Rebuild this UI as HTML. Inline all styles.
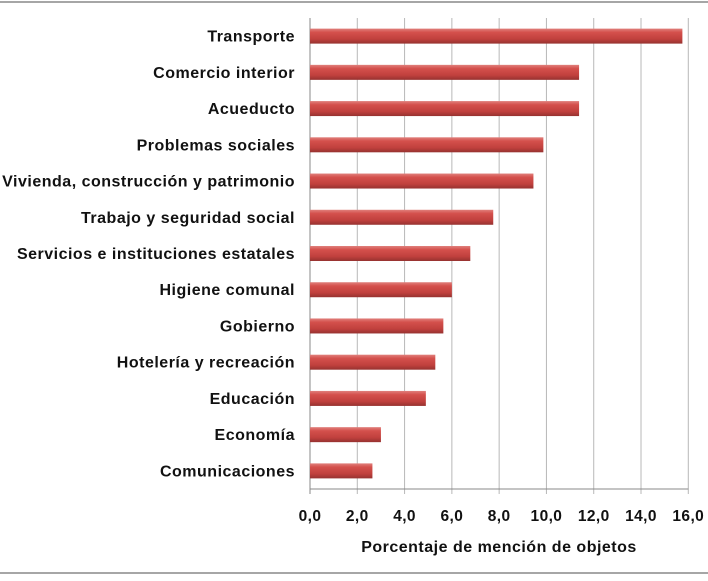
<!DOCTYPE html>
<html><head><meta charset="utf-8"><style>
html,body{margin:0;padding:0;background:#fff;}
svg text{font-family:"Liberation Sans",sans-serif;}
</style></head><body>
<svg id="chart" width="708" height="576" xmlns="http://www.w3.org/2000/svg">
<defs>
<linearGradient id="bg" x1="0" y1="0" x2="0" y2="1">
<stop offset="0" stop-color="#e0807c"/><stop offset="0.25" stop-color="#d4504c"/><stop offset="0.7" stop-color="#c0403d"/><stop offset="1" stop-color="#963230"/>
</linearGradient>
</defs>
<line x1="0" y1="2" x2="708" y2="2" stroke="#888" stroke-width="1.5"/>
<line x1="0" y1="573" x2="708" y2="573" stroke="#888" stroke-width="1.5"/>
<g id="grid"></g><g id="bars"></g><g id="labels"></g><g id="ticks"></g>
<text x="499" y="552" text-anchor="middle" font-size="16" font-weight="bold" letter-spacing="0.5" fill="#111">Porcentaje de mención de objetos</text>
</svg>
<script>
const categories=["Transporte","Comercio interior","Acueducto","Problemas sociales","Vivienda, construcción y patrimonio","Trabajo y seguridad social","Servicios e instituciones estatales","Higiene comunal","Gobierno","Hotelería y recreación","Educación","Economía","Comunicaciones"];
const values=[15.75,11.38,11.38,9.87,9.45,7.75,6.78,6.0,5.64,5.3,4.9,3.0,2.64];
const tickValues=[0,2,4,6,8,10,12,14,16];
const tickLabels=["0,0","2,0","4,0","6,0","8,0","10,0","12,0","14,0","16,0"];
const NS="http://www.w3.org/2000/svg";
const x0=310,x1=688.3,xmax=16,plotTop=18,plotBottom=489;
const xs=v=>x0+(x1-x0)*v/xmax;
const band=(plotBottom-plotTop)/categories.length;
const yc=i=>plotTop+band*(i+0.5);
function mk(t,a,p){const e=document.createElementNS(NS,t);for(const k in a)e.setAttribute(k,a[k]);p.appendChild(e);return e;}
const G=document.getElementById('grid'),B=document.getElementById('bars'),L=document.getElementById('labels'),T=document.getElementById('ticks');
tickValues.forEach((v,i)=>{
 const l=mk('line',{x1:xs(v),x2:xs(v),y1:plotTop,y2:plotBottom+5,stroke:i==0?'#888':'#b8b8b8','stroke-width':1},G);
 
 
 const t=mk('text',{x:xs(v),y:521,'text-anchor':'middle','font-size':15.5,'font-weight':'bold','letter-spacing':0.4,fill:'#111'},T);
 t.textContent=tickLabels[i];
 
 
});
const ax=mk('line',{x1:x0,x2:x1,y1:plotBottom,y2:plotBottom,stroke:'#888','stroke-width':1},G);


categories.forEach((c,i)=>{
 const y=yc(i);
 const r=mk('rect',{x:x0,y:y-7.5,width:xs(values[i])-x0,height:15,fill:'url(#bg)'},B);
 
 
 const t=mk('text',{x:295,y:y+5.5,'text-anchor':'end','font-size':16,'font-weight':'bold','letter-spacing':0.5,fill:'#111'},L);
 t.textContent=c;
 
 
});
</script>
</body></html>
